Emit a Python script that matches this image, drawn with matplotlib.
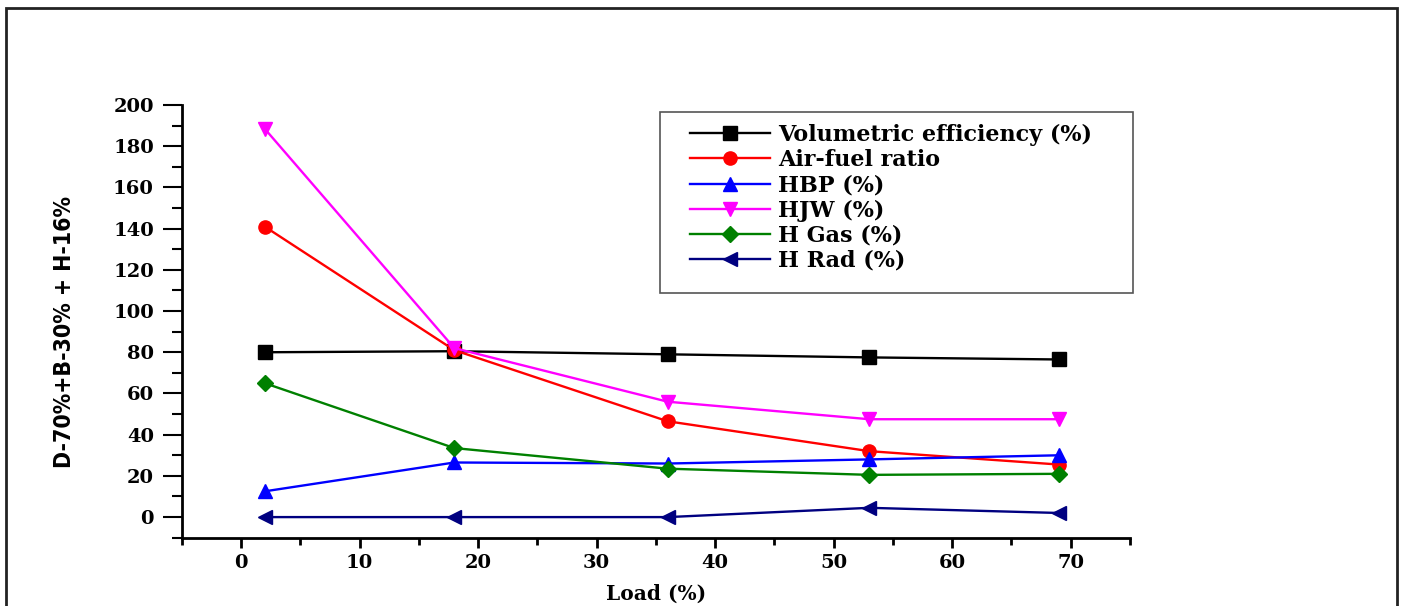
import numpy as np
import matplotlib
matplotlib.use("Agg")
import matplotlib.pyplot as plt
from matplotlib.patches import Rectangle
from matplotlib.ticker import MultipleLocator

load = [2, 18, 36, 53, 69]
vol_eff = [80, 80.5, 79, 77.5, 76.5]
air_fuel = [141, 81, 46.5, 32, 25.5]
hbp = [12.5, 26.5, 26, 28, 30]
hjw = [188.5, 82, 56, 47.5, 47.5]
h_gas = [65, 33.5, 23.5, 20.5, 21]
h_rad = [0, 0, 0, 4.5, 2]

series = [
    ("Volumetric efficiency (%)", vol_eff, "black", "s"),
    ("Air-fuel ratio", air_fuel, "red", "o"),
    ("HBP (%)", hbp, "blue", "^"),
    ("HJW (%)", hjw, "magenta", "v"),
    ("H Gas (%)", h_gas, "green", "D"),
    ("H Rad (%)", h_rad, "navy", "<"),
]

W, H = 1402, 606
fig = plt.figure(figsize=(W / 100, H / 100), dpi=100)
ax = fig.add_axes([181.7 / W, (H - 537.7) / H, (1130 - 181.7) / W, (537.7 - 105) / H])

serif = "DejaVu Serif"
for name, vals, col, mk in series:
    ms = 8 if mk == "D" else 9.5
    ax.plot(load, vals, color=col, marker=mk, ms=ms, lw=1.7, label=name)

ax.set_xlim(-5, 75)
ax.set_ylim(-10, 200)
ax.xaxis.set_major_locator(MultipleLocator(10))
ax.xaxis.set_minor_locator(MultipleLocator(5))
ax.yaxis.set_major_locator(MultipleLocator(20))
ax.yaxis.set_minor_locator(MultipleLocator(10))

for s in ["top", "right"]:
    ax.spines[s].set_visible(False)
for s in ["left", "bottom"]:
    ax.spines[s].set_linewidth(2)

ax.tick_params(axis="x", which="major", direction="out", length=7, width=2, pad=5)
ax.tick_params(axis="x", which="minor", direction="out", length=5, width=2)
ax.tick_params(axis="y", which="major", direction="out", length=14, width=1.5, pad=6)
ax.tick_params(axis="y", which="minor", direction="out", length=7, width=1.5)

for lab in ax.get_xticklabels() + ax.get_yticklabels():
    lab.set_fontfamily(serif)
    lab.set_fontweight("bold")
    lab.set_fontsize(14)

ax.set_xlabel("Load (%)", fontfamily=serif, fontweight="bold", fontsize=14.5, labelpad=8)
ax.set_ylabel("D-70%+B-30% + H-16%", family="DejaVu Sans", fontstretch="condensed",
              fontweight="bold", fontsize=16.5)
ax.yaxis.set_label_coords(-0.111, 0.475)

# legend box drawn separately (extra space at the bottom in the original)
fig.patches.append(Rectangle((660 / W, (H - 293) / H), 473 / W, 181 / H,
                             transform=fig.transFigure, fill=False,
                             edgecolor="#555555", lw=1.2))
leg = ax.legend(loc="upper left", bbox_to_anchor=(690 / W, (H - 124) / H),
                bbox_transform=fig.transFigure, frameon=False, borderpad=0,
                borderaxespad=0, handlelength=3.6, handletextpad=0.35,
                labelspacing=0.14, prop={"family": serif, "weight": "bold", "size": 16})

# outer frame around the whole picture
fig.patches.append(Rectangle((6 / W, -0.05), 1391 / W, 1.05 - 8 / H,
                             transform=fig.transFigure, fill=False,
                             edgecolor="#222222", lw=2))

fig.savefig("out.png", dpi=100)
